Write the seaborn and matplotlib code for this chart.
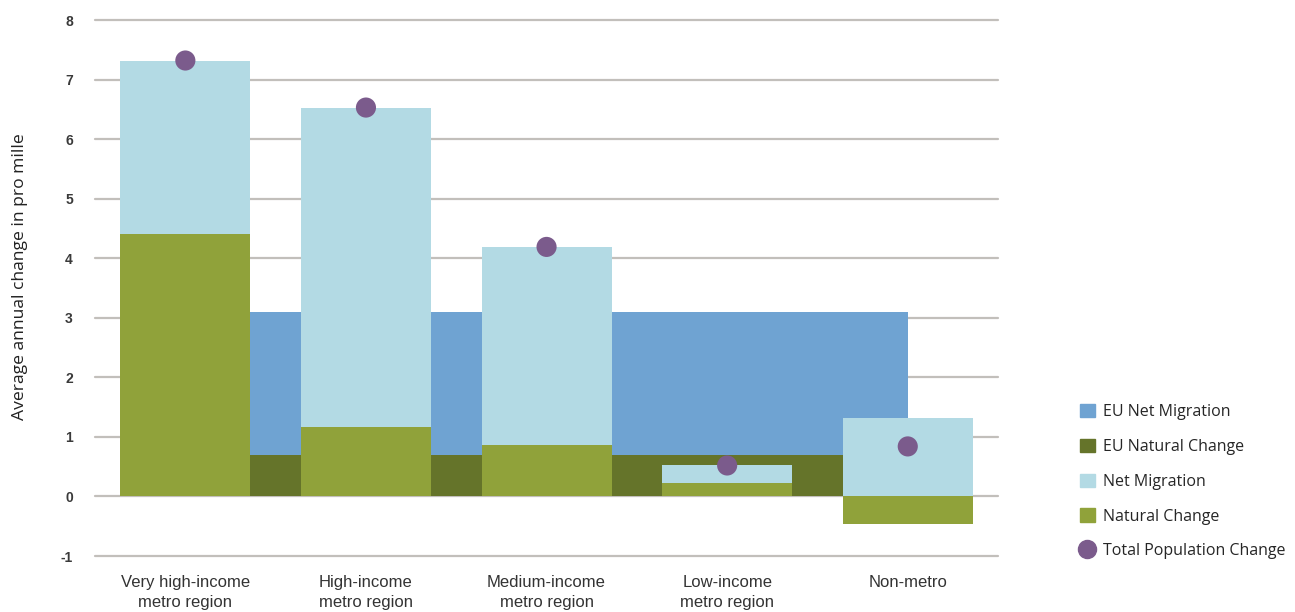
import matplotlib
matplotlib.use("Agg")
import matplotlib.pyplot as plt
from matplotlib.patches import Patch
from matplotlib.lines import Line2D
import seaborn as sns
import pandas as pd

categories = ["Very high-income\nmetro region", "High-income\nmetro region",
              "Medium-income\nmetro region", "Low-income\nmetro region", "Non-metro"]
natural_change = [4.40, 1.17, 0.86, 0.22, -0.47]
net_migration = [2.92, 5.36, 3.33, 0.30, 1.31]
total_change = [7.32, 6.53, 4.19, 0.52, 0.84]
eu_natural = [0.70, 0.70, 0.70, 0.70, 0.70]
eu_migration = [2.40, 2.40, 2.40, 2.40, 2.40]

c_eu_mig = "#6fa3d2"
c_eu_nat = "#65742a"
c_mig = "#b3dae4"
c_nat = "#90a23a"
c_dot = "#7b5b8c"

df = pd.DataFrame({"cat": categories, "nat": natural_change, "mig": net_migration,
                   "total": total_change})
# net migration sits on top of positive natural change, starts at 0 otherwise
df["mig_top"] = df["nat"].clip(lower=0) + df["mig"]

sns.set_style("white")
plt.rcParams["axes.unicode_minus"] = False
fig = plt.figure(figsize=(12.95, 6.12), dpi=100)
ax = fig.add_axes([0.0734, 0.0915, 0.6973, 0.8758])

ax.set_ylim(-1, 8)
ax.set_yticks(range(-1, 9))
for v in range(-1, 9):
    ax.axhline(v, color="#c2bfbb", lw=1.6, zorder=0, clip_on=False)

# EU reference areas
xs = list(range(len(categories)))
eu_top = [a + b for a, b in zip(eu_natural, eu_migration)]
ax.fill_between(xs, 0, eu_natural, color=c_eu_nat, lw=0, zorder=1)
ax.fill_between(xs, eu_natural, eu_top, color=c_eu_mig, lw=0, zorder=1)

sns.barplot(data=df, x="cat", y="mig_top", color=c_mig, width=0.72,
            saturation=1, linewidth=0, ax=ax, zorder=2)
sns.barplot(data=df, x="cat", y="nat", color=c_nat, width=0.72,
            saturation=1, linewidth=0, ax=ax, zorder=3)
sns.scatterplot(x=xs, y=df["total"], color=c_dot, s=210, edgecolor="none",
                ax=ax, zorder=4)

ax.set_xlim(-0.5, 4.5)
sns.despine(ax=ax, left=True, bottom=True)
ax.set_xlabel("")
ax.set_ylabel("Average annual change in pro mille", family="Open Sans",
              fontsize=12.6, color="#222222")
ax.yaxis.set_label_coords(-0.074, 0.522)
ax.tick_params(axis="both", length=0)
ax.tick_params(axis="y", pad=16)
ax.tick_params(axis="x", pad=14)
for lab in ax.get_yticklabels():
    lab.set_family("Liberation Sans")
    lab.set_fontsize(10)
    lab.set_fontweight("bold")
    lab.set_color("#3a3a3a")
for lab in ax.get_xticklabels():
    lab.set_family("Liberation Sans")
    lab.set_fontsize(12)
    lab.set_color("#333333")
    lab.set_linespacing(1.35)

handles = [Patch(color=c_eu_mig), Patch(color=c_eu_nat), Patch(color=c_mig),
           Patch(color=c_nat),
           Line2D([], [], marker="o", ls="none", color=c_dot, markersize=13)]
labels = ["EU Net Migration", "EU Natural Change", "Net Migration",
          "Natural Change", "Total Population Change"]
fig.legend(handles, labels, loc="lower left", bbox_to_anchor=(0.828, 0.073),
           frameon=False, prop={"family": "Open Sans", "size": 11.5},
           handlelength=0.9, handleheight=0.9, handletextpad=0.55,
           labelspacing=1.17, borderpad=0)

fig.savefig("out.png", dpi=100)
